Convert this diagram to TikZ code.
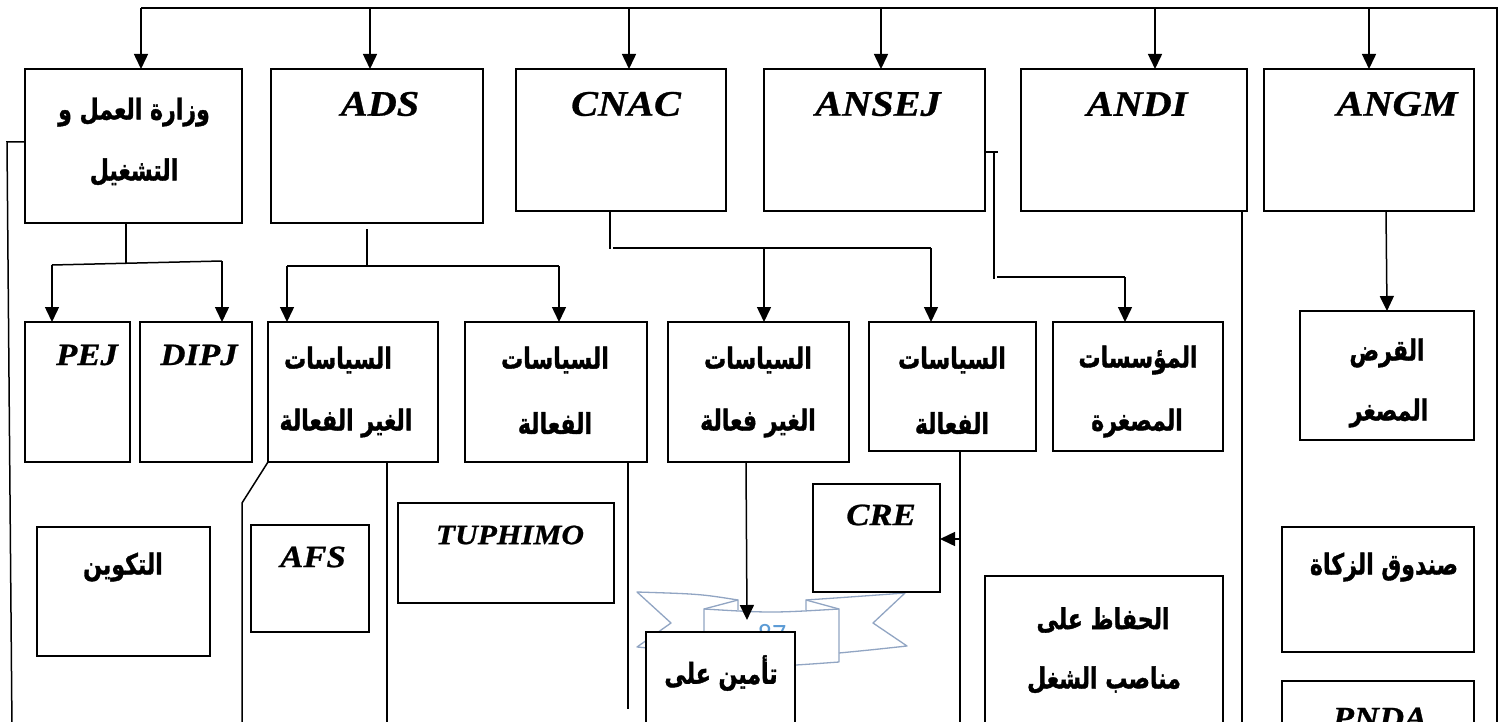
\documentclass[tikz,border=0pt]{standalone}
\usepackage{fontspec}
\setmainfont{Liberation Serif}
\newfontfamily\arabicfont[Script=Arabic,FakeBold=1.4]{DejaVu Sans Bold}
\newfontfamily\latfont[FakeStretch=1.12,FakeBold=0.8]{Liberation Serif}
\newfontfamily\numfont{Carlito}
\TeXXeTstate=1
\newcommand\artxt[1]{\scalebox{0.92}[1.2]{\beginR #1\endR}}
\usetikzlibrary{arrows.meta}
\definecolor{ribline}{RGB}{145,165,195}
\definecolor{ribtext}{RGB}{91,155,213}
\tikzset{
 box/.style={draw=black, line width=1.8pt, fill=white, inner sep=0pt, outer sep=0pt, anchor=north west},
 ln/.style={draw=black, line width=1.5pt},
 arr/.style={ln, -{Triangle[width=14pt,length=15pt]}},
 lat/.style={font=\latfont\fontsize{36}{40}\selectfont\bfseries\itshape, inner sep=0pt},
 slat/.style={font=\latfont\fontsize{31}{36}\selectfont\bfseries\itshape, inner sep=0pt},
 ar/.style={font=\arabicfont\fontsize{24}{28}\selectfont, inner sep=0pt},
 rib/.style={draw=ribline, line width=1.3pt, line join=round},
}
\begin{document}
\begin{tikzpicture}[x=1pt,y=-1pt]
\useasboundingbox (0,0) rectangle (1503,722);
\fill[white] (0,0) rectangle (1503,722);

% ---------- ribbon (page number) ----------
\draw[rib] (738,600) .. controls (700,594) .. (637,592) -- (671,623) -- (637,647) .. controls (670,650) .. (704,653);
\draw[rib] (704,609) -- (738,600) -- (738,610);
\draw[rib] (704,663) -- (704,609) .. controls (771,613) .. (839,609) -- (839,662) .. controls (771,667) .. (704,663);
\draw[rib] (806,610) -- (806,600) -- (839,609);
\draw[rib] (806,600) .. controls (850,597) .. (905,593) -- (873,623) -- (907,646) .. controls (870,650) .. (839,653);
\node[font=\numfont\fontsize{28}{30}\selectfont, text=ribtext, inner sep=0pt] (pg) at (772,634) {87};

% ---------- row 1 boxes ----------
\node[box, minimum width=217pt, minimum height=154pt] (wz) at (25,69) {};
\node[box, minimum width=212pt, minimum height=154pt] (ads) at (271,69) {};
\node[box, minimum width=210pt, minimum height=142pt] (cnac) at (516,69) {};
\node[box, minimum width=221pt, minimum height=142pt] (ansej) at (764,69) {};
\node[box, minimum width=226pt, minimum height=142pt] (andi) at (1021,69) {};
\node[box, minimum width=210pt, minimum height=142pt] (angm) at (1264,69) {};

\node[ar] (twz1) at (134,112) {\artxt{وزارة العمل و}};
\node[ar] (twz2) at (134,172) {\artxt{التشغيل}};
\node[lat] (tads) at (380,104) {ADS};
\node[lat] (tcnac) at (626,104) {CNAC};
\node[lat] (tansej) at (878,104) {ANSEJ};
\node[lat] (tandi) at (1137,104) {ANDI};
\node[lat] (tangm) at (1397,104) {ANGM};

% ---------- row 2 boxes ----------
\node[box, minimum width=105pt, minimum height=140pt] (pej) at (25,322) {};
\node[box, minimum width=112pt, minimum height=140pt] (dipj) at (140,322) {};
\node[box, minimum width=170pt, minimum height=140pt] (adsn) at (268,322) {};
\node[box, minimum width=182pt, minimum height=140pt] (adse) at (465,322) {};
\node[box, minimum width=181pt, minimum height=140pt] (cnacn) at (668,322) {};
\node[box, minimum width=167pt, minimum height=129pt] (cnace) at (869,322) {};
\node[box, minimum width=170pt, minimum height=129pt] (micro) at (1053,322) {};
\node[box, minimum width=174pt, minimum height=129pt] (qard) at (1300,311) {};

\node[slat] (tpej) at (87,355) {PEJ};
\node[slat] (tdipj) at (199,355) {DIPJ};
\node[ar] (tadsn1) at (338,360) {\artxt{السياسات}};
\node[ar] (tadsn2) at (346,423) {\artxt{الغير الفعالة}};
\node[ar] (tadse1) at (555,360) {\artxt{السياسات}};
\node[ar] (tadse2) at (555,423) {\artxt{الفعالة}};
\node[ar] (tcnacn1) at (758,360) {\artxt{السياسات}};
\node[ar] (tcnacn2) at (758,423) {\artxt{الغير فعالة}};
\node[ar] (tcnace1) at (952,360) {\artxt{السياسات}};
\node[ar] (tcnace2) at (952,423) {\artxt{الفعالة}};
\node[ar] (tmicro1) at (1138,360) {\artxt{المؤسسات}};
\node[ar] (tmicro2) at (1137,423) {\artxt{المصغرة}};
\node[ar] (tqard1) at (1387,353) {\artxt{القرض}};
\node[ar] (tqard2) at (1389,413) {\artxt{المصغر}};

% ---------- row 3 boxes ----------
\node[box, minimum width=173pt, minimum height=129pt] (takwin) at (37,527) {};
\node[box, minimum width=118pt, minimum height=107pt] (afs) at (251,525) {};
\node[box, minimum width=216pt, minimum height=100pt] (tuph) at (398,503) {};
\node[box, minimum width=127pt, minimum height=108pt] (cre) at (813,484) {};
\node[box, minimum width=149pt, minimum height=128pt] (tamin) at (646,632) {};
\node[box, minimum width=238pt, minimum height=184pt] (hifadh) at (985,576) {};
\node[box, minimum width=192pt, minimum height=125pt] (zakat) at (1282,527) {};
\node[box, minimum width=192pt, minimum height=80pt] (pnda) at (1282,681) {};

\node[ar] (ttakwin) at (123,567) {\artxt{التكوين}};
\node[slat] (tafs) at (313,557) {AFS};
\node[slat, font=\latfont\fontsize{28}{34}\selectfont\bfseries\itshape] (ttuph) at (510,535) {TUPHIMO};
\node[slat] (tcre) at (881,515) {CRE};
\node[ar] (ttamin1) at (721,673) {\artxt{تأمين على}};
\node[ar] (ttamin2) at (721,737) {\artxt{البطالة}};
\node[ar] (thifadh1) at (1103,620) {\artxt{الحفاظ على}};
\node[ar] (thifadh2) at (1104,680) {\artxt{مناصب الشغل}};
\node[ar] (tzakat) at (1384,567) {\artxt{صندوق الزكاة}};
\node[slat] (tpnda) at (1380,718) {PNDA};

% ---------- top distribution ----------
\coordinate (tl) at (141,8);
\coordinate (tr) at (1497,8);
\coordinate (rb) at (1497,730);
\draw[ln] (tl) -- (tr) -- (rb);
\coordinate (d1) at (141,8);
\coordinate (d2) at (370,8);
\coordinate (d3) at (629,8);
\coordinate (d4) at (881,8);
\coordinate (d5) at (1155,8);
\coordinate (d6) at (1369,8);
\draw[arr] (d1) -- (d1 |- wz.north);
\draw[arr] (d2) -- (d2 |- ads.north);
\draw[arr] (d3) -- (d3 |- cnac.north);
\draw[arr] (d4) -- (d4 |- ansej.north);
\draw[arr] (d5) -- (d5 |- andi.north);
\draw[arr] (d6) -- (d6 |- angm.north);

% ---------- wz ----------
\coordinate (wzk) at (7,142);
\coordinate (wzb) at (12,730);
\draw[ln] (wzk -| wz.west) -- (wzk) -- (wzb);
\coordinate (wzj) at (126,263);
\coordinate (wzl) at (52,265);
\coordinate (wzr) at (222,261);
\draw[ln] (wzj |- wz.south) -- (wzj);
\draw[ln] (wzl) -- (wzr);
\draw[arr] (wzl) -- (wzl |- pej.north);
\draw[arr] (wzr) -- (wzr |- dipj.north);

% ---------- ADS ----------
\coordinate (adsg) at (367,229);
\coordinate (adsj) at (367,267);
\coordinate (adsl) at (287,266);
\coordinate (adsr) at (559,266);
\draw[ln] (adsg) -- (adsj);
\draw[ln] (adsl) -- (adsr);
\draw[arr] (adsl) -- (adsl |- adsn.north);
\draw[arr] (adsr) -- (adsr |- adse.north);

% ---------- CNAC ----------
\coordinate (cnj) at (610,249);
\coordinate (cnl) at (613,248);
\coordinate (cnm) at (764,248);
\coordinate (cnr) at (931,248);
\draw[ln] (cnj |- cnac.south) -- (cnj);
\draw[ln] (cnl) -- (cnr);
\draw[arr] (cnm) -- (cnm |- cnacn.north);
\draw[arr] (cnr) -- (cnr |- cnace.north);

% ---------- ANSEJ ----------
\coordinate (ak1) at (998,152);
\coordinate (ak2) at (994,152);
\coordinate (ak3) at (994,279);
\coordinate (ak4) at (997,277);
\coordinate (ak5) at (1125,277);
\draw[ln] (ak1 -| ansej.east) -- (ak1);
\draw[ln] (ak2) -- (ak3);
\draw[ln] (ak4) -- (ak5);
\draw[arr] (ak5) -- (ak5 |- micro.north);

% ---------- ANDI ----------
\coordinate (andib) at (1242,730);
\draw[ln] (andib |- andi.south) -- (andib);

% ---------- ANGM ----------
\coordinate (ag1) at (1386,211);
\coordinate (ag2) at (1387,311);
\draw[arr] (ag1) -- (ag2 |- qard.north);

% ---------- lower connectors ----------
\coordinate (an1) at (242,503);
\coordinate (an2) at (242,730);
\draw[ln] (adsn.south west) -- (an1) -- (an2);
\coordinate (an3) at (387,730);
\draw[ln] (an3 |- adsn.south) -- (an3);
\coordinate (ae1) at (628,709);
\draw[ln] (ae1 |- adse.south) -- (ae1);
\coordinate (cn1) at (746,462);
\coordinate (cn2) at (747,620);
\draw[arr] (cn1) -- (cn2);
\coordinate (ce1) at (960,730);
\coordinate (ce2) at (960,539);
\draw[ln] (ce1 |- cnace.south) -- (ce1);
\draw[arr] (ce2) -- (ce2 -| cre.east);
\end{tikzpicture}
\end{document}
